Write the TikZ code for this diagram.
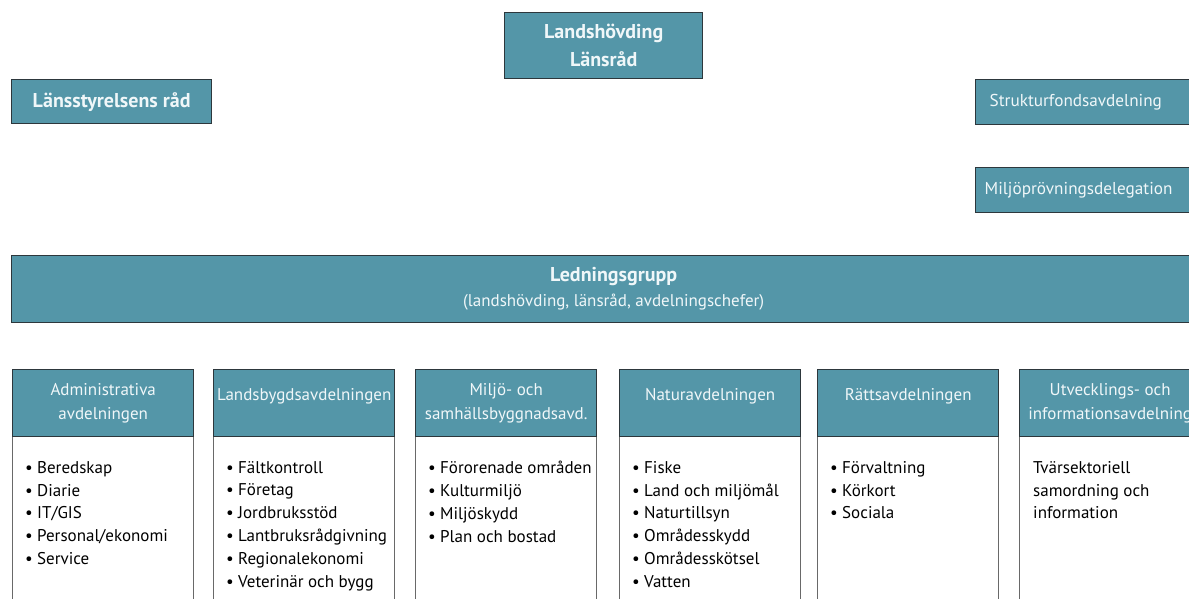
\documentclass[tikz,border=0pt]{standalone}
\usepackage{fontspec}
\setmainfont{PT Sans}
\definecolor{sarcelle}{RGB}{84,150,168}
\definecolor{bordure}{RGB}{45,55,60}
\definecolor{gris}{RGB}{105,105,105}
\definecolor{texteclair}{RGB}{240,247,249}
\newcommand{\puce}{\makebox[12pt][l]{\textbullet}}
\begin{document}
\begin{tikzpicture}[x=1pt,y=-1pt]
	\tikzstyle{boite}=[draw=bordure,fill=sarcelle,line width=1.4pt,text=texteclair,inner sep=0pt,anchor=north west]
	\tikzstyle{titre}=[font=\fontsize{20}{28}\selectfont\bfseries,align=center]
	\tikzstyle{cote}=[font=\fontsize{17.2}{20}\selectfont,align=left,text width=200pt,minimum height=45pt]
	\tikzstyle{entete}=[boite,minimum width=181pt,minimum height=67pt,font=\fontsize{17}{24}\selectfont,align=center]
	\tikzstyle{uneligne}=[text height=12pt,text depth=18pt]
	\tikzstyle{corps}=[draw=gris,fill=white,line width=1.3pt,anchor=north west,minimum width=181pt,minimum height=210pt]
	\tikzstyle{liste}=[anchor=north west,align=left,inner sep=0pt,font=\fontsize{17}{22.8}\selectfont]
	\def\HautTete{369}
	\def\HautCorps{436}
	\def\HautListe{461}
	\def\DecalageListe{13}
	\useasboundingbox (0,0) rectangle (1189,598);
	\clip (0,0) rectangle (1189,598);
	% direction
	\node[boite,titre,minimum width=198pt,minimum height=66pt] (LH) at (504,12) {Landshövding\\Länsråd};
	\node[boite,font=\fontsize{20}{22}\selectfont\bfseries,minimum width=200pt,minimum height=44pt] (LR) at (11,79) {Länsstyrelsens råd};
	\node[boite,cote,inner xsep=14pt] (SF) at (975,79) {Strukturfondsavdelning};
	\node[boite,cote,inner xsep=9pt] (MD) at (975,167) {Miljöprövningsdelegation};
	\node[boite,minimum width=1204pt,minimum height=67pt,align=center,font=\fontsize{17}{25}\selectfont] (LG) at (11,255)
		{{\fontsize{20}{25}\selectfont\bfseries Ledningsgrupp}\\(landshövding, länsråd, avdelningschefer)};
	% avdelningar
	\node[corps] (C1) at (12,\HautCorps) {};
	\node[entete] (E1) at (12,\HautTete) {Administrativa\\avdelningen};
	\node[liste] (L1) at ({12+\DecalageListe},\HautListe) {\puce Beredskap\\\puce Diarie\\\puce IT/GIS\\\puce Personal/ekonomi\\\puce Service};
	\node[corps] (C2) at (213,\HautCorps) {};
	\node[entete,uneligne] (E2) at (213,\HautTete) {Landsbygdsavdelningen};
	\node[liste] (L2) at ({213+\DecalageListe},\HautListe) {\puce Fältkontroll\\\puce Företag\\\puce Jordbruksstöd\\\puce Lantbruksrådgivning\\\puce Regionalekonomi\\\puce Veterinär och bygg};
	\node[corps] (C3) at (415,\HautCorps) {};
	\node[entete] (E3) at (415,\HautTete) {Miljö- och\\samhällsbyggnadsavd.};
	\node[liste] (L3) at ({415+\DecalageListe},\HautListe) {\puce Förorenade områden\\\puce Kulturmiljö\\\puce Miljöskydd\\\puce Plan och bostad};
	\node[corps] (C4) at (619,\HautCorps) {};
	\node[entete,uneligne] (E4) at (619,\HautTete) {Naturavdelningen};
	\node[liste] (L4) at ({619+\DecalageListe},\HautListe) {\puce Fiske\\\puce Land och miljömål\\\puce Naturtillsyn\\\puce Områdesskydd\\\puce Områdesskötsel\\\puce Vatten};
	\node[corps] (C5) at (817,\HautCorps) {};
	\node[entete,uneligne] (E5) at (817,\HautTete) {Rättsavdelningen};
	\node[liste] (L5) at ({817+\DecalageListe},\HautListe) {\puce Förvaltning\\\puce Körkort\\\puce Sociala};
	\node[corps] (C6) at (1019,\HautCorps) {};
	\node[entete] (E6) at (1019,\HautTete) {Utvecklings- och\\informationsavdelning};
	\node[liste] (L6) at ({1019+\DecalageListe+1},\HautListe) {Tvärsektoriell\\samordning och\\information};
\end{tikzpicture}
\end{document}
